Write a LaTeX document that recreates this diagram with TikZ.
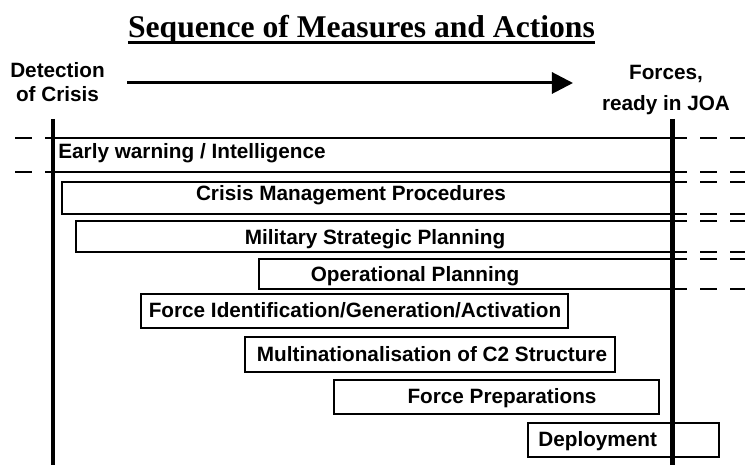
\documentclass[tikz,border=0pt]{standalone}
\usepackage{fontspec}
\setmainfont{Liberation Sans}
\newfontfamily\titlefont{Liberation Serif}
\usetikzlibrary{arrows.meta}
\tikzset{
  lbl/.style={font=\bfseries\fontsize{11.8}{13.7}\selectfont, inner sep=0pt},
  bar/.style={line width=0.9pt},
  barext/.style={line width=0.9pt, dash pattern=on 9.7pt off 7.4pt},
  edgeline/.style={line width=2.6pt},
}
\begin{document}
\begin{tikzpicture}[x=0.02cm, y=-0.02cm]
\useasboundingbox (0,0) rectangle (745,465);
% heading
\node[inner sep=0pt, anchor=base, font=\titlefont\bfseries\fontsize{18}{20}\selectfont] (title) at (361.5,38) {Sequence of Measures and Actions};
\draw[line width=1.5pt] ([yshift=-2.7pt]title.base west) -- ([yshift=-2.7pt]title.base east);
\node[lbl, align=center, anchor=north] (detect) at (57.5,62) {Detection\\of Crisis};
\node[lbl, align=center, anchor=north] (forces) at (666,65) {Forces,\\[3.9pt]ready in JOA};
\coordinate (go) at (127,83);
\coordinate (ready) at (573,83);
\draw[line width=1.7pt, -{Triangle[length=12pt,width=12pt]}] (go) -- (ready);
% open bars
\draw[barext] (15,138) -- (45,138);
\draw[barext] (15,172) -- (45,172);
\draw[bar] (45,138) -- (670,138);
\draw[bar] (45,172) -- (670,172);
\draw[bar] (670,182) -- (62,182) -- (62,214) -- (670,214);
\draw[bar] (670,221) -- (76,221) -- (76,252) -- (670,252);
\draw[bar] (670,259) -- (259,259) -- (259,289) -- (670,289);
\foreach \y in {138,172,182,214,221,252,259,289}
  \draw[barext] (670,\y) -- (745,\y);
% closed bars
\draw[bar] (141,294) rectangle (568,328);
\draw[bar] (245,337) rectangle (615,372);
\draw[bar] (334,380) rectangle (659,414);
\draw[bar] (528,423) rectangle (719,457);
% time limits
\draw[edgeline] (53,119) -- (53,465);
\draw[edgeline] (672.5,119) -- (672.5,465);
% labels
\node[lbl, anchor=base west] (early) at (58,159) {Early warning / Intelligence};
\node[lbl, anchor=base] (cmp) at (351,201) {Crisis Management Procedures};
\node[lbl, anchor=base] (msp) at (375,245) {Military Strategic Planning};
\node[lbl, anchor=base] (opp) at (415,282) {Operational Planning};
\node[lbl, anchor=base] (fig) at (355,318) {Force Identification/Generation/Activation};
\node[lbl, anchor=base] (mnc) at (432,362) {Multinationalisation of C2 Structure};
\node[lbl, anchor=base] (fprep) at (502,404) {Force Preparations};
\node[lbl, anchor=base west] (depl) at (538,447) {Deployment};
\end{tikzpicture}
\end{document}
